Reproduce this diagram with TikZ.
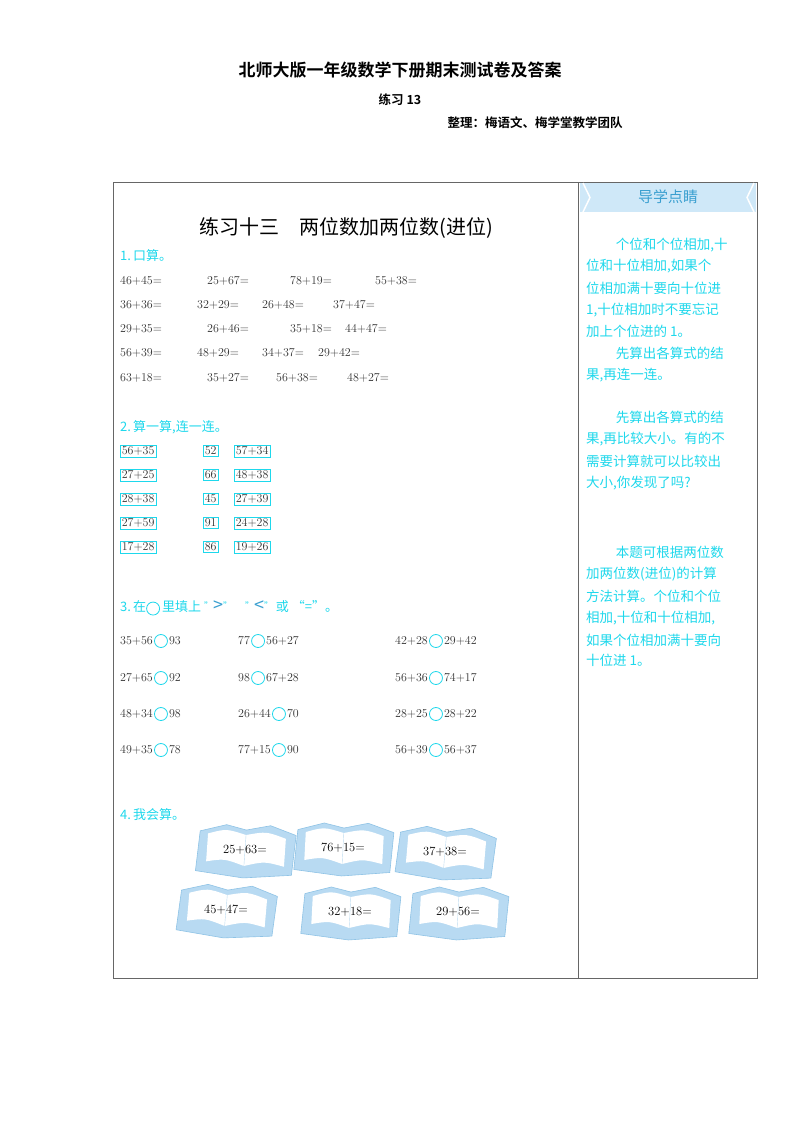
\documentclass[tikz,border=0pt]{standalone}
\usepackage{fontspec}
\usetikzlibrary{positioning}
\newfontfamily\cjk{Noto Sans CJK SC}
\newfontfamily\cjkb{Noto Sans CJK SC Bold}
\definecolor{cy}{HTML}{1ED8EC}
\definecolor{bn}{HTML}{CFE8F8}
\definecolor{bt}{HTML}{3A9FD0}
\definecolor{bk}{HTML}{B8DAF2}
\definecolor{bke}{HTML}{8FC3E6}
\begin{document}
\begin{tikzpicture}[x=1pt,y=-1pt,
  num/.style={anchor=west,inner sep=0pt,font=\fontsize{12}{12}\selectfont,text=black!80},
  cyt/.style={anchor=west,inner sep=0pt,font=\cjk\fontsize{13}{13}\selectfont,text=cy},
  rt/.style={anchor=west,inner sep=0pt,font=\cjk\fontsize{13.5}{13.5}\selectfont,text=cy},
  bx/.style={draw=cy,line width=0.6pt,inner sep=1.5pt,anchor=west,font=\fontsize{12}{12}\selectfont,text=black!80},
  circ/.style={draw=cy,line width=0.8pt,circle,minimum size=13pt,inner sep=0pt},
  bookt/.style={font=\fontsize{12.5}{12.5}\selectfont,text=black}]
\useasboundingbox (0,0) rectangle (800,1132);
\fill[white] (0,0) rectangle (800,1132);
\node[font=\cjkb\fontsize{17}{17}\selectfont] (t1) at (400,70) {北师大版一年级数学下册期末测试卷及答案};
\node[font=\cjkb\fontsize{12.5}{12.5}\selectfont] (t2) at (400,100) {练习 13};
\node[font=\cjkb\fontsize{12.5}{12.5}\selectfont] (t3) at (535,123) {整理：梅语文、梅学堂教学团队};
\draw[black!60,line width=0.8pt] (113,182) rectangle (757,978);
\draw[black!60,line width=0.8pt] (578,182) -- (578,978);
% banner
\fill[bn] (580,183) -- (756,183) -- (756,212) -- (580,212) -- cycle;
\draw[white,line width=1.5pt] (583,183) -- (590,197.5) -- (583,212);
\draw[white,line width=1.5pt] (754,183) -- (747,197.5) -- (754,212);
\node[font=\cjk\fontsize{15}{15}\selectfont,text=bt] (ban) at (668,197) {导学点睛};
\node[font=\cjk\fontsize{20}{20}\selectfont] (title) at (346,228) {练习十三\quad 两位数加两位数(进位)};
\node[cyt] (s1) at (120,256) {1.\,口算。};
\foreach \y/\a/\b/\c/\d/\xb/\xc/\xd in {281/46+45=/25+67=/78+19=/55+38=/207/290/375,
 305/36+36=/32+29=/26+48=/37+47=/197/262/333,
 329/29+35=/26+46=/35+18=/44+47=/207/290/345,
 353/56+39=/48+29=/34+37=/29+42=/197/262/318,
 378/63+18=/35+27=/56+38=/48+27=/207/276/347}{
 \node[num] at (120,\y) {\a}; \node[num] at (\xb,\y) {\b};
 \node[num] at (\xc,\y) {\c}; \node[num] at (\xd,\y) {\d};}
\node[cyt] (s2) at (120,427) {2.\,算一算,连一连。};
\foreach \y/\a/\n/\b in {451/56+35/52/57+34,475/27+25/66/48+38,499/28+38/45/27+39,523/27+59/91/24+28,547/17+28/86/19+26}{
 \node[bx] at (120,\y) {\a}; \node[bx] at (203,\y) {\n}; \node[bx] at (234,\y) {\b};}
\node[cyt] (s3) at (120,608) {3.\,在\tikz[baseline=-3pt]\draw[cy,line width=0.8pt] (0,0) circle (6.5pt);\,里填上 \raisebox{2pt}{\fontsize{9}{9}\selectfont ”}\textcolor{bt}{\fontsize{18}{18}\selectfont >}\raisebox{2pt}{\fontsize{9}{9}\selectfont ”}\quad \raisebox{2pt}{\fontsize{9}{9}\selectfont ”}\textcolor{bt}{\fontsize{18}{18}\selectfont <}\raisebox{2pt}{\fontsize{9}{9}\selectfont ”} 或 “=”。};
\foreach \y/\a/\b/\c/\d/\e/\f in {641/35+56/93/77/56+27/42+28/29+42,678/27+65/92/98/67+28/56+36/74+17,714/48+34/98/26+44/70/28+25/28+22,750/49+35/78/77+15/90/56+39/56+37}{
 \node[num] (l) at (120,\y) {\a}; \node[circ,right=1pt of l] (c1) {}; \node[num,right=1pt of c1] {\b};
 \node[num] (m) at (238,\y) {\c}; \node[circ,right=1pt of m] (c2) {}; \node[num,right=1pt of c2] {\d};
 \node[num] (r) at (395,\y) {\e}; \node[circ,right=1pt of r] (c3) {}; \node[num,right=1pt of c3] {\f};}
\node[cyt] (s4) at (120,815) {4.\,我会算。};
\foreach \x/\y/\r/\t in {245/850/-4/25+63=,343/848/-3/76+15=,445/852/-5/37+38=,226/910/-5/45+47=,350/912/-3/32+18=,458/912/-3/29+56=}{
 \begin{scope}[shift={(\x,\y)},rotate=\r]
  \fill[bk] (-46,-16) -- (-20,-24) -- (0,-20) -- (24,-26) -- (50,-18) -- (48,22) -- (0,28) -- (-48,24) -- cycle;
  \draw[bke,line width=0.6pt] (-46,-16) -- (-20,-24) -- (0,-20) -- (24,-26) -- (50,-18) -- (48,22) -- (0,28) -- (-48,24) -- cycle;
  \fill[white] (-38,-14) .. controls (-20,-20) .. (0,-15) .. controls (20,-20) .. (40,-14) -- (40,14) .. controls (20,10) .. (0,16) .. controls (-20,10) .. (-38,14) -- cycle;
  \draw[bke!60] (0,-15) -- (0,16);
 \end{scope}
 \node[bookt] at (\x,\y) {\t};}
% right column
\foreach \y/\t in {245/{\hspace{2.2em}个位和个位相加,十},266/{位和十位相加,如果个},288/{位相加满十要向十位进},310/{1,十位相加时不要忘记},331/{加上个位进的 1。},353/{\hspace{2.2em}先算出各算式的结},375/{果,再连一连。},
 417/{\hspace{2.2em}先算出各算式的结},439/{果,再比较大小。有的不},461/{需要计算就可以比较出},483/{大小,你发现了吗?},
 552/{\hspace{2.2em}本题可根据两位数},574/{加两位数(进位)的计算},596/{方法计算。个位和个位},618/{相加,十位和十位相加,},640/{如果个位相加满十要向},660/{十位进 1。}}{
 \node[rt] at (586,\y) {\t};}
\end{tikzpicture}
\end{document}
